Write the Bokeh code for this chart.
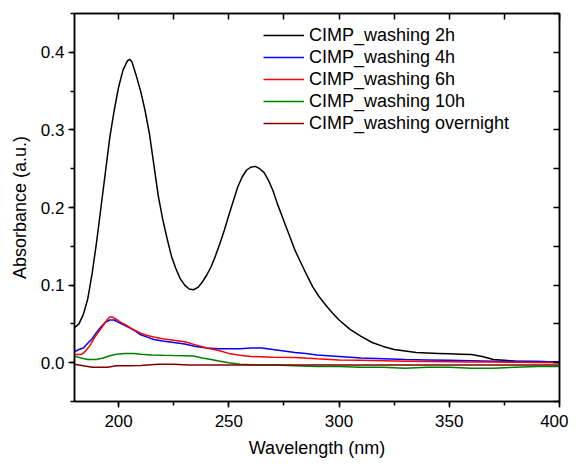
from bokeh.plotting import figure
from bokeh.models import (Range1d, SingleIntervalTicker, FixedTicker, LinearAxis, Legend,
                          LegendItem, PrintfTickFormatter)
from bokeh.embed import file_html
from bokeh.resources import INLINE

# --- data ---
wl_2h = [180, 182, 184, 186, 188, 190, 192, 194, 196, 198, 200, 202, 204, 205, 206, 208,
         210, 212, 214, 216, 218, 220, 222, 224, 226, 228, 230, 232, 234, 236, 238, 240,
         242, 244, 246, 248, 250, 252, 254, 256, 258, 260, 262, 264, 266, 268, 270, 272,
         274, 276, 278, 280, 282, 285, 288, 291, 294, 297, 300, 305, 310, 315, 320, 325,
         330, 335, 340, 345, 350, 355, 360, 365, 370, 375, 380, 390, 400]
abs_2h = [0.045, 0.050, 0.062, 0.082, 0.115, 0.155, 0.200, 0.245, 0.290, 0.325, 0.355,
          0.377, 0.389, 0.391, 0.388, 0.370, 0.350, 0.325, 0.295, 0.255, 0.215, 0.185,
          0.160, 0.137, 0.121, 0.108, 0.100, 0.095, 0.094, 0.097, 0.104, 0.113, 0.124,
          0.138, 0.154, 0.171, 0.190, 0.208, 0.226, 0.239, 0.248, 0.252, 0.253, 0.250,
          0.245, 0.235, 0.222, 0.205, 0.190, 0.175, 0.160, 0.145, 0.133, 0.115, 0.098,
          0.085, 0.074, 0.064, 0.055, 0.043, 0.034, 0.026, 0.021, 0.017, 0.015, 0.013,
          0.0125, 0.012, 0.0115, 0.011, 0.0105, 0.008, 0.004, 0.003, 0.002, 0.0015, 0.001]

wl_4h = [180, 182, 184, 186, 188, 190, 192, 194, 196, 198, 200, 202, 205, 208, 210, 213,
         216, 220, 225, 230, 235, 240, 245, 250, 255, 260, 265, 270, 275, 280, 285, 290,
         300, 310, 320, 330, 340, 350, 360, 370, 380, 390, 400]
abs_4h = [0.014, 0.017, 0.019, 0.025, 0.031, 0.039, 0.046, 0.052, 0.055, 0.055, 0.052,
          0.049, 0.045, 0.040, 0.036, 0.033, 0.030, 0.028, 0.026, 0.024, 0.021, 0.019,
          0.018, 0.018, 0.018, 0.019, 0.019, 0.017, 0.015, 0.013, 0.012, 0.010, 0.008,
          0.006, 0.005, 0.004, 0.0035, 0.003, 0.0025, 0.002, 0.002, 0.0015, 0.001]

wl_6h = [180, 183, 185, 187, 189, 191, 193, 195, 196, 197, 199, 201, 203, 206, 208, 210,
         213, 216, 220, 225, 230, 235, 240, 245, 250, 255, 260, 270, 280, 290, 300, 310,
         320, 330, 340, 350, 360, 370, 380, 390, 400]
abs_6h = [0.0105, 0.0105, 0.015, 0.022, 0.032, 0.040, 0.048, 0.056, 0.059, 0.059, 0.056,
          0.052, 0.049, 0.044, 0.041, 0.038, 0.035, 0.033, 0.031, 0.029, 0.027, 0.023,
          0.019, 0.016, 0.012, 0.0095, 0.008, 0.007, 0.0068, 0.005, 0.0035, 0.003,
          0.0025, 0.002, 0.0015, 0.0012, 0.001, 0.0008, 0.0005, 0.0003, 0.0]

wl_10h = [180, 183, 186, 190, 193, 196, 199, 203, 207, 210, 215, 220, 225, 230, 234, 238,
          242, 246, 250, 255, 260, 270, 280, 290, 300, 310, 320, 330, 340, 350, 360, 370,
          380, 390, 400]
abs_10h = [0.0085, 0.006, 0.004, 0.004, 0.006, 0.009, 0.011, 0.012, 0.0118, 0.011, 0.010,
           0.0095, 0.0092, 0.009, 0.0085, 0.006, 0.004, 0.002, 0.0, -0.002, -0.0025,
           -0.003, -0.004, -0.005, -0.005, -0.006, -0.006, -0.007, -0.006, -0.006,
           -0.007, -0.007, -0.006, -0.005, -0.005]

wl_on = [180, 184, 188, 195, 199, 205, 210, 218, 225, 232, 240, 260, 280, 300, 320, 340,
         360, 380, 400]
abs_on = [-0.002, -0.004, -0.006, -0.006, -0.004, -0.004, -0.0035, -0.002, -0.002, -0.003,
          -0.003, -0.003, -0.003, -0.003, -0.003, -0.003, -0.003, -0.003, -0.003]

labels = ["CIMP_washing 2h", "CIMP_washing 4h", "CIMP_washing 6h",
          "CIMP_washing 10h", "CIMP_washing overnight"]
colors = ["#000000", "#0000ff", "#ff0000", "#008000", "#800000"]
series = [(wl_2h, abs_2h), (wl_4h, abs_4h), (wl_6h, abs_6h), (wl_10h, abs_10h), (wl_on, abs_on)]

# mirror-axis tick positions (top and right frame edges)
x_mirror_ticks = [200, 225, 250, 275, 300, 325, 350, 375, 400]
y_mirror_ticks = [-0.05, 0.0, 0.05, 0.1, 0.15, 0.2, 0.25, 0.3, 0.35, 0.4, 0.45]

FONT = "Liberation Sans"

p = figure(width=568, height=460, output_backend="svg", toolbar_location=None,
           x_range=Range1d(180, 400), y_range=Range1d(-0.05, 0.45),
           min_border_left=74, min_border_right=9, min_border_top=13, min_border_bottom=53)
p.xgrid.visible = False
p.ygrid.visible = False
p.outline_line_color = "black"
p.outline_line_width = 1.5
p.background_fill_color = "white"
p.border_fill_color = "white"

renderers = []
for (x, y), c in zip(series, colors):
    r = p.line(x, y, line_color=c, line_width=1.5)
    renderers.append(r)

xa = p.xaxis[0]
xa.ticker = SingleIntervalTicker(interval=50, num_minor_ticks=2)
ya = p.yaxis[0]
ya.ticker = SingleIntervalTicker(interval=0.1, num_minor_ticks=2)
ya.formatter = PrintfTickFormatter(format="%.1f")
for ax in (xa, ya):
    ax.axis_line_width = 1.5
    ax.major_tick_line_width = 1.5
    ax.minor_tick_line_width = 1.5
    ax.major_tick_out = 6
    ax.major_tick_in = 0
    ax.minor_tick_out = 4
    ax.minor_tick_in = 0
    ax.major_label_text_font = FONT
    ax.major_label_text_font_size = "17px"
    ax.major_label_text_color = "black"
    ax.axis_label_text_font = FONT
    ax.axis_label_text_font_size = "18px"
    ax.axis_label_text_font_style = "normal"
    ax.axis_label_text_color = "black"
xa.axis_label = "Wavelength (nm)"
xa.major_label_standoff = 7
xa.axis_label_standoff = 8
ya.axis_label = "Absorbance (a.u.)"
ya.major_label_standoff = 4
ya.axis_label_standoff = 8

top = LinearAxis(ticker=FixedTicker(ticks=[], minor_ticks=x_mirror_ticks))
right = LinearAxis(ticker=FixedTicker(ticks=[], minor_ticks=y_mirror_ticks))
for ax in (top, right):
    ax.axis_line_width = 1.5
    ax.major_tick_out = 0
    ax.major_tick_in = 0
    ax.minor_tick_line_width = 1.5
    ax.minor_tick_out = 0
    ax.minor_tick_in = 6
    ax.major_label_standoff = 0
p.add_layout(top, "above")
p.add_layout(right, "right")

legend = Legend(items=[LegendItem(label=l, renderers=[r]) for l, r in zip(labels, renderers)],
                location=(189, 267), border_line_color=None, background_fill_alpha=0,
                padding=0, margin=0, spacing=0, glyph_width=41, glyph_height=22,
                label_standoff=5, label_text_font=FONT, label_text_font_size="18px",
                label_text_color="black", label_height=22)
p.add_layout(legend)

open("out.html", "w").write(file_html(p, INLINE))
